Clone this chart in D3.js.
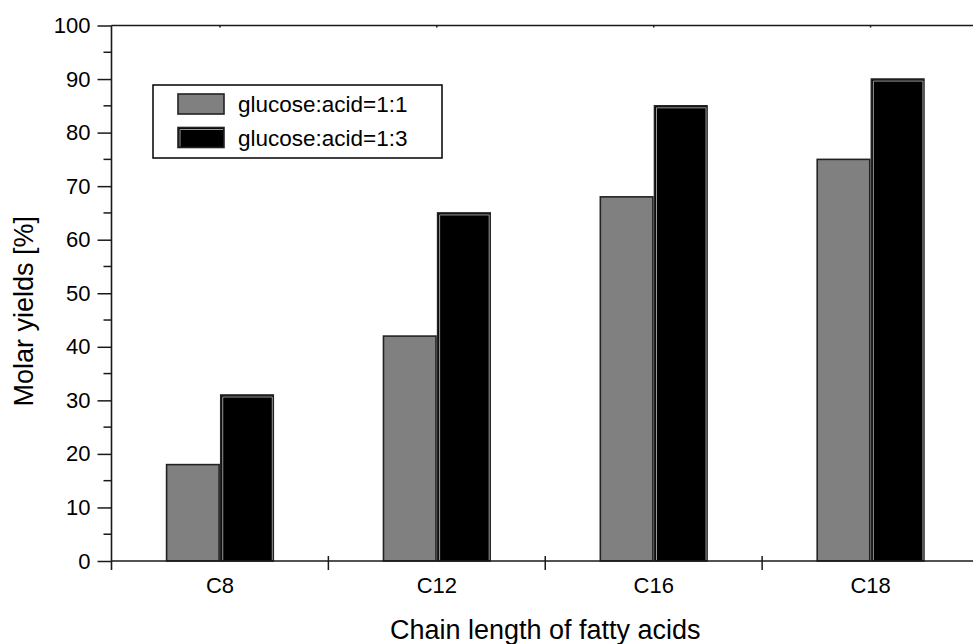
<!DOCTYPE html>
<html>
<head>
<meta charset="utf-8">
<script src="https://cdn.jsdelivr.net/npm/d3@7"></script>
<style>
  html, body { margin: 0; padding: 0; background: #fff; }
  svg { display: block; font-family: "Liberation Sans", Arial, sans-serif; }
</style>
</head>
<body>
<svg id="chart" width="973" height="644"></svg>
<script>
// Fatty acid chain lengths and molar yields for two glucose:acid ratios
const categories = ["C8", "C12", "C16", "C18"];
const seriesNames = ["glucose:acid=1:1", "glucose:acid=1:3"];
const ratio11 = [18, 42, 68, 75];
const ratio13 = [31, 65, 85, 90];
const yTicks = [0, 10, 20, 30, 40, 50, 60, 70, 80, 90, 100];
const yMinorTicks = [5, 15, 25, 35, 45, 55, 65, 75, 85, 95];

const seriesValues = [ratio11, ratio13];
const fills = ["#808080", "#000000"];

(function draw() {
  const svg = d3.select("#chart");
  const plotLeft = 111.5, plotRight = 979, plotTop = 25.5, plotBottom = 561;
  const axisColor = "#1a1a1a";

  const x0 = d3.scaleBand().domain(categories).range([plotLeft, plotRight]).paddingInner(0).paddingOuter(0);
  const bw = x0.bandwidth();
  const x1 = d3.scaleBand().domain(seriesNames).range([bw * 0.254, bw * 0.746]).paddingInner(0.03).paddingOuter(0);
  const y = d3.scaleLinear().domain([0, 100]).range([plotBottom, plotTop]);

  // bars
  const rows = categories.map((c, i) => ({ cat: c, vals: seriesNames.map((s, k) => ({ s, k, v: seriesValues[k][i] })) }));
  const groups = svg.append("g").selectAll("g").data(rows).join("g")
    .attr("transform", d => `translate(${x0(d.cat)},0)`);

  groups.selectAll("rect.bar").data(d => d.vals).join("rect")
    .attr("class", "bar")
    .attr("x", d => x1(d.s))
    .attr("y", d => y(d.v))
    .attr("width", x1.bandwidth())
    .attr("height", d => y(0) - y(d.v))
    .attr("fill", d => fills[d.k])
    .attr("stroke", "#222")
    .attr("stroke-width", 1.6);

  // light inner edge on the dark bars
  groups.selectAll("path.hl").data(d => d.vals.filter(v => v.k === 1)).join("path")
    .attr("class", "hl")
    .attr("d", d => {
      const xa = x1(d.s) + 2, xb = x1(d.s) + x1.bandwidth() - 1, ya = y(d.v) + 2, yb = y(0) - 1;
      return `M${xa},${yb}V${ya}H${xb}V${yb}`;
    })
    .attr("fill", "none")
    .attr("stroke", "#9a9a9a")
    .attr("stroke-width", 1);

  // y axis
  const yAxis = d3.axisLeft(y).tickValues(yTicks).tickSize(14).tickPadding(7).tickFormat(d3.format("d"));
  const gy = svg.append("g").attr("transform", `translate(${plotLeft},0)`).call(yAxis);
  gy.select(".domain").remove();
  gy.selectAll(".tick line").attr("stroke", axisColor).attr("stroke-width", 1.5);
  gy.selectAll(".tick text").attr("font-size", 22).attr("fill", "#000")
    .attr("font-family", "Liberation Sans, Arial, sans-serif");
  gy.selectAll(".minor").data(yMinorTicks).join("line")
    .attr("class", "minor")
    .attr("x1", -8).attr("x2", 0)
    .attr("y1", d => y(d)).attr("y2", d => y(d))
    .attr("stroke", axisColor).attr("stroke-width", 1.5);
  gy.append("line").attr("x1", 0).attr("x2", 0).attr("y1", plotTop).attr("y2", plotBottom + 9)
    .attr("stroke", axisColor).attr("stroke-width", 1.6);

  // x axis
  const xAxis = d3.axisBottom(x0).tickSize(0).tickPadding(16);
  const gx = svg.append("g").attr("transform", `translate(0,${plotBottom})`).call(xAxis);
  gx.select(".domain").remove();
  gx.selectAll(".tick text").attr("font-size", 22).attr("fill", "#000")
    .attr("font-family", "Liberation Sans, Arial, sans-serif");
  gx.append("line").attr("x1", plotLeft).attr("x2", plotRight).attr("y1", 0).attr("y2", 0)
    .attr("stroke", axisColor).attr("stroke-width", 1.6);
  gx.selectAll(".sep").data(categories.slice(1)).join("line")
    .attr("class", "sep")
    .attr("x1", d => x0(d)).attr("x2", d => x0(d))
    .attr("y1", -5).attr("y2", 9)
    .attr("stroke", axisColor).attr("stroke-width", 1.5);

  // top frame with small ticks at category centres
  const gt = svg.append("g");
  gt.append("line").attr("x1", plotLeft).attr("x2", plotRight).attr("y1", plotTop).attr("y2", plotTop)
    .attr("stroke", axisColor).attr("stroke-width", 1.6);
  gt.selectAll(".ct").data(categories).join("line")
    .attr("class", "ct")
    .attr("x1", d => x0(d) + bw / 2).attr("x2", d => x0(d) + bw / 2)
    .attr("y1", plotTop).attr("y2", plotTop + 2)
    .attr("stroke", axisColor).attr("stroke-width", 1.5);

  // axis titles
  svg.append("text")
    .attr("x", (plotLeft + plotRight) / 2).attr("y", 639)
    .attr("text-anchor", "middle").attr("font-size", 27).attr("fill", "#000")
    .text("Chain length of fatty acids");
  svg.append("text")
    .attr("transform", `translate(33,${(plotTop + plotBottom) / 2 + 18}) rotate(-90)`)
    .attr("text-anchor", "middle").attr("font-size", 27).attr("fill", "#000")
    .text("Molar yields [%]");

  // legend
  const lg = svg.append("g").attr("transform", "translate(153,85)");
  lg.append("rect").attr("width", 289).attr("height", 73)
    .attr("fill", "#fff").attr("stroke", "#000").attr("stroke-width", 1.5);
  const items = lg.selectAll("g.item").data(seriesNames).join("g")
    .attr("class", "item")
    .attr("transform", (d, i) => `translate(25,${9 + i * 33.5})`);
  items.append("rect").attr("width", 46).attr("height", 20)
    .attr("fill", (d, i) => fills[i]).attr("stroke", "#222").attr("stroke-width", 1.6);
  items.filter((d, i) => i === 1).append("path")
    .attr("d", "M2,19V2H45")
    .attr("fill", "none").attr("stroke", "#9a9a9a").attr("stroke-width", 1);
  items.append("text").attr("x", 60).attr("y", 10).attr("dy", "0.36em")
    .attr("font-size", 22.5).attr("fill", "#000")
    .text(d => d);
})();
</script>
</body>
</html>
